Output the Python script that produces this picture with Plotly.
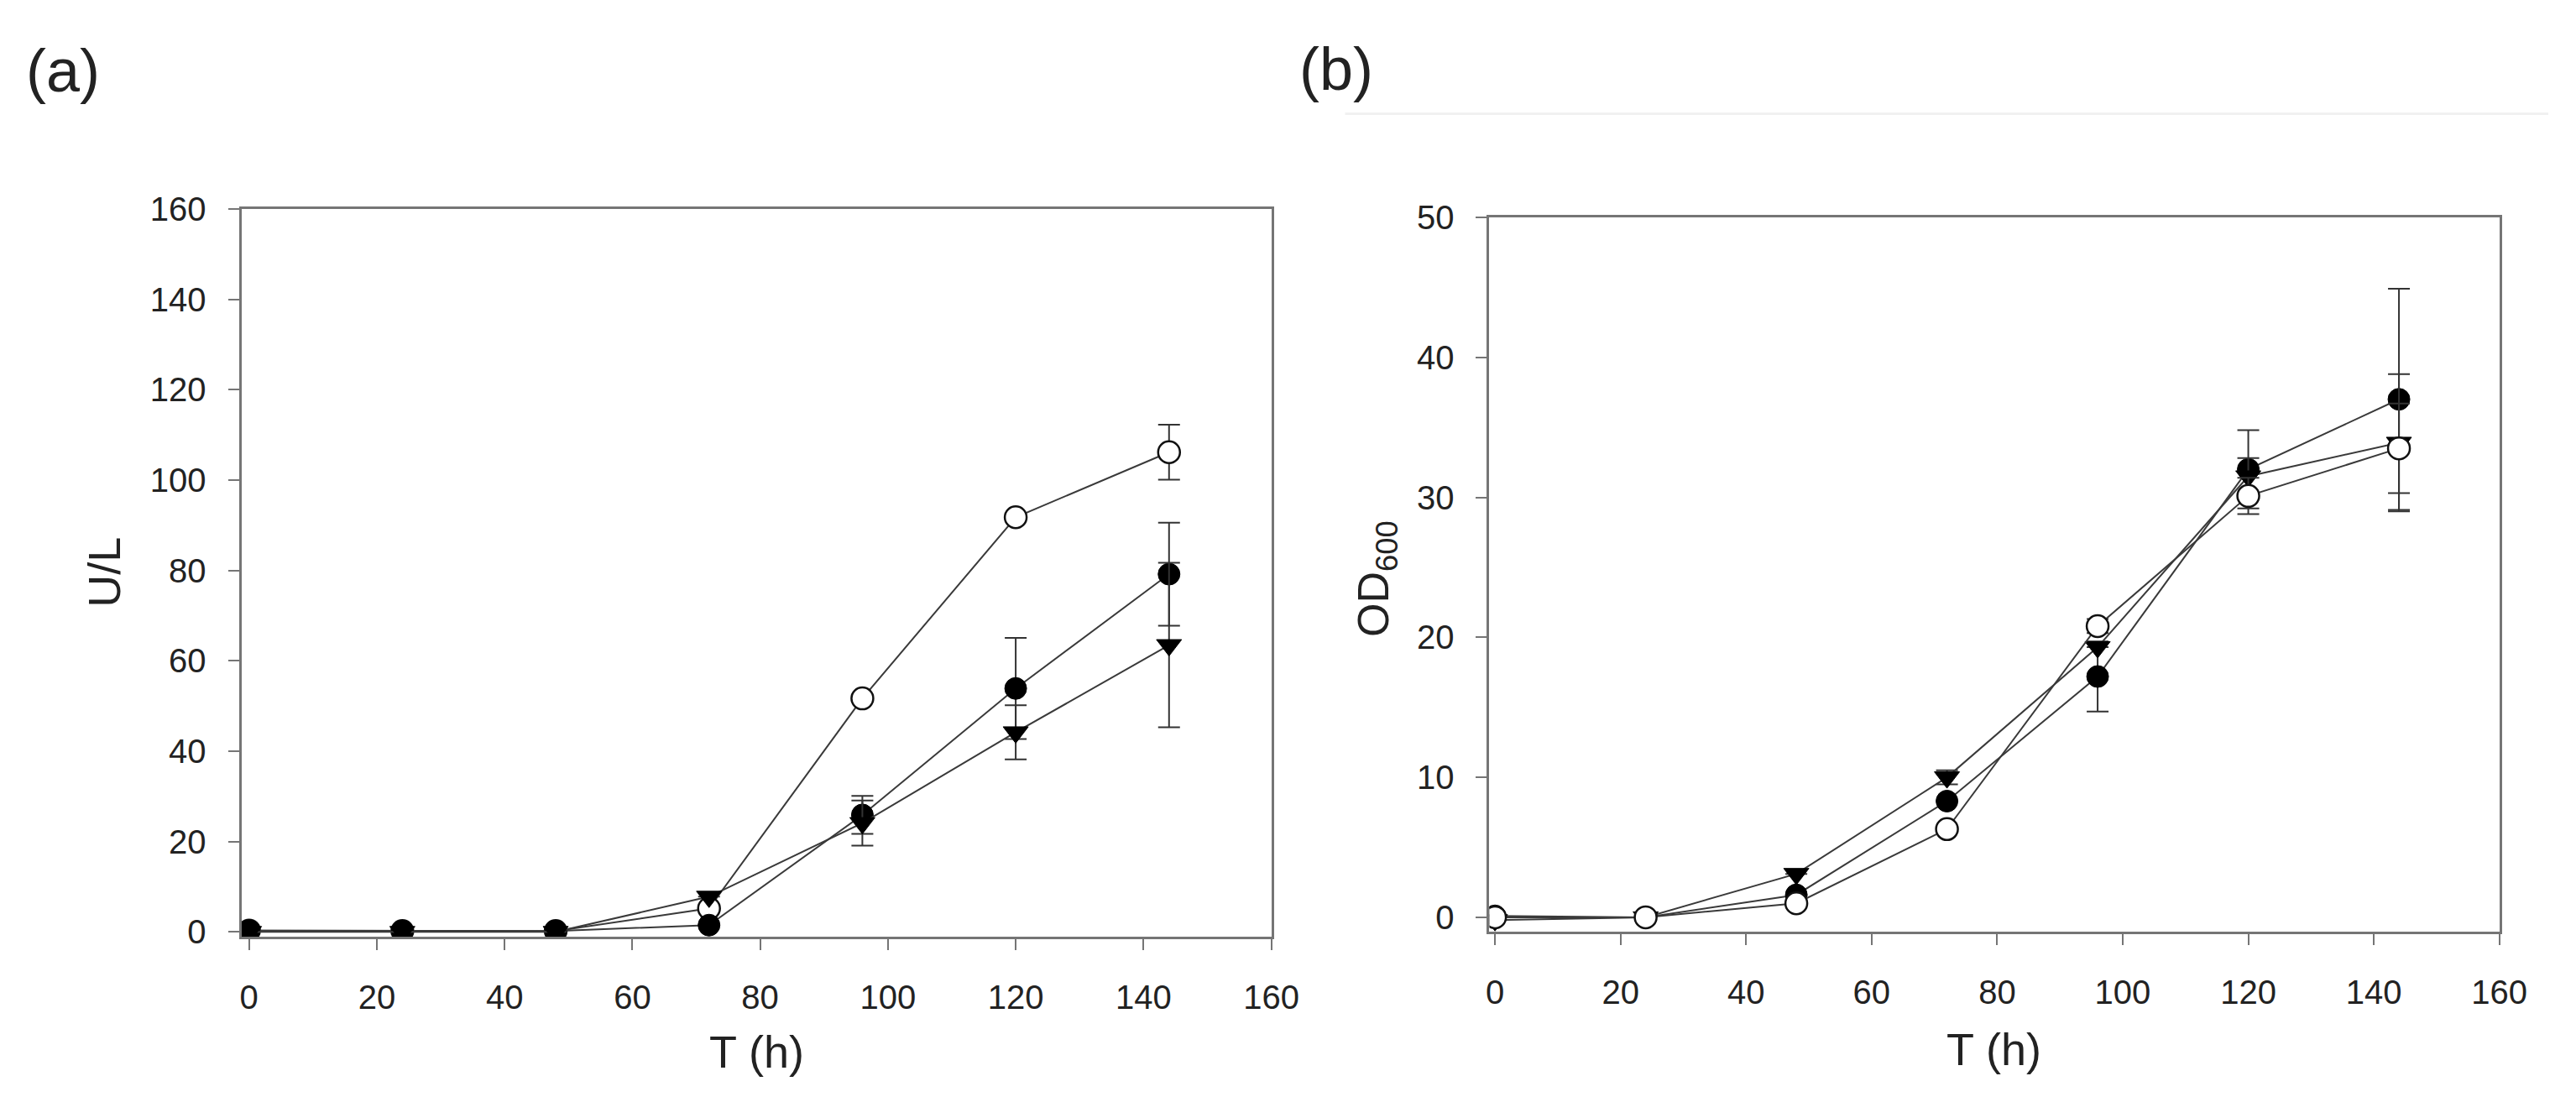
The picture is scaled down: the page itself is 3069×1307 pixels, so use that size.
import plotly.graph_objects as go

# ---------------- data ----------------
hours = [0, 24, 48, 72, 96, 120, 144]
x_ticks = [0, 20, 40, 60, 80, 100, 120, 140, 160]
ya_ticks = [0, 20, 40, 60, 80, 100, 120, 140, 160]
yb_ticks = [0, 10, 20, 30, 40, 50]

# panel (a): activity U/L
a_open = [0.3, 0.2, 0.2, 5.2, 51.7, 91.8, 106.2]
a_open_err = [0, 0, 0, 0, 0, 0, 6.1]
a_filled = [0.3, 0.2, 0.2, 1.5, 25.9, 53.9, 79.2]
a_filled_err = [0, 0, 0, 0, 4.2, 11.2, 11.4]
a_tri = [0.0, 0.0, 0.0, 7.8, 24.1, 44.2, 63.5]
a_tri_err = [0, 0, 0, 0, 5.0, 6.0, 18.2]

# panel (b): OD600
b_open = [0.0, 0.0, 1.0, 6.3, 20.8, 30.1, 33.5]
b_open_err = [0, 0, 0, 0, 0.5, 1.3, 3.2]
b_filled = [0.1, 0.0, 1.6, 8.3, 17.2, 32.0, 37.0]
b_filled_err = [0, 0, 0, 0, 2.5, 2.8, 7.9]
b_tri = [-0.2, 0.0, 3.1, 10.0, 19.3, 31.5, 33.9]
b_tri_err = [0, 0, 0, 0.5, 0, 1.3, 4.9]

# ---------------- styling ----------------
W, H = 3069, 1307
LINE = "#3a3a3a"
AXIS = "#757575"
TXT = "#222222"
FONT = "Arial, Liberation Sans, sans-serif"
MS = 26


def trace(x, y, err, kind, xa, ya):
    if kind == "open":
        marker = dict(symbol="circle", size=MS, color="white",
                      line=dict(color="#111111", width=2.5))
    elif kind == "filled":
        marker = dict(symbol="circle", size=MS, color="#000000",
                      line=dict(color="#000000", width=1))
    else:
        marker = dict(symbol="triangle-down", size=MS, color="#000000",
                      line=dict(color="#000000", width=1))
    return go.Scatter(
        x=x, y=y, mode="lines+markers", xaxis=xa, yaxis=ya,
        line=dict(color=LINE, width=2),
        marker=marker,
        error_y=dict(type="data", array=err, visible=True,
                     color="#333333", thickness=2, width=13),
        showlegend=False, hoverinfo="skip",
    )


fig = go.Figure()
# panel (a)
fig.add_trace(trace(hours, a_open, a_open_err, "open", "x", "y"))
fig.add_trace(trace(hours, a_filled, a_filled_err, "filled", "x", "y"))
fig.add_trace(trace(hours, a_tri, a_tri_err, "tri", "x", "y"))
# panel (b)
fig.add_trace(trace(hours, b_filled, b_filled_err, "filled", "x2", "y2"))
fig.add_trace(trace(hours, b_tri, b_tri_err, "tri", "x2", "y2"))
fig.add_trace(trace(hours, b_open, b_open_err, "open", "x2", "y2"))


def px_x(p):
    return p / W


def px_y(p):
    return 1 - p / H


axis_common = dict(
    showgrid=False, zeroline=False, showline=True, linecolor=AXIS, linewidth=3,
    mirror=True, ticks="outside", ticklen=13, tickwidth=2, tickcolor=AXIS,
    tickfont=dict(family=FONT, size=40, color=TXT),
)

fig.update_layout(
    width=W, height=H, margin=dict(l=0, r=0, t=0, b=0),
    paper_bgcolor="white", plot_bgcolor="white",
    font=dict(family=FONT, color=TXT),
    xaxis=dict(domain=[px_x(287), px_x(1529)], range=[-1.2, 160],
               tickvals=x_ticks, anchor="y", ticklabelstandoff=22, **axis_common),
    yaxis=dict(domain=[px_y(1127), px_y(234)], range=[-1.1, 160],
               tickvals=ya_ticks, anchor="x", ticklabelstandoff=18, **axis_common),
    xaxis2=dict(domain=[px_x(1792), px_x(3010)], range=[-0.9, 160],
                tickvals=x_ticks, anchor="y2", ticklabelstandoff=22, **axis_common),
    yaxis2=dict(domain=[px_y(1121), px_y(244)], range=[-1.05, 50],
                tickvals=yb_ticks, anchor="x2", ticklabelstandoff=18, **axis_common),
)


def ann(text, x, y, size, angle=0):
    fig.add_annotation(
        text=text, x=px_x(x), y=px_y(y), xref="paper", yref="paper",
        xanchor="center", yanchor="middle", showarrow=False, textangle=angle,
        font=dict(family=FONT, size=size, color=TXT),
    )


ann("(a)", 72, 64, 72)
ann("(b)", 1607, 62, 72)
ann("U/L", 122, 680, 54, -90)
ann("OD<sub>600</sub>", 1656, 688, 52, -90)
ann("T (h)", 908, 1268, 54)
ann("T (h)", 2400, 1265, 54)

# faint scan artefact line at top of panel (b)
fig.add_shape(type="line", xref="paper", yref="paper",
              x0=px_x(1618), x1=1, y0=px_y(117), y1=px_y(117),
              line=dict(color="#f1f1f1", width=3))

fig.write_html("out.html")
